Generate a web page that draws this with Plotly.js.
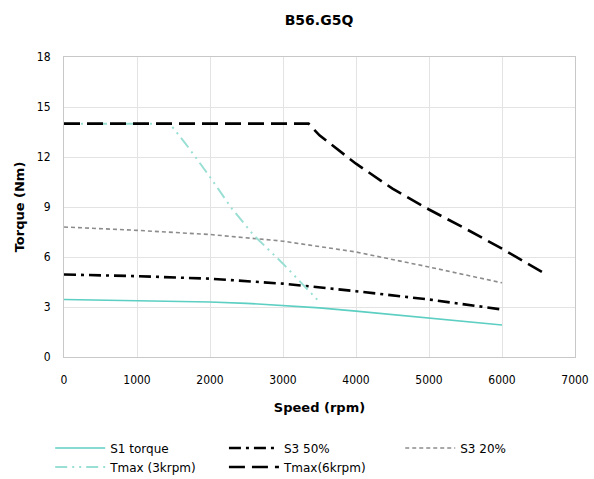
<!DOCTYPE html>
<html>
<head>
<meta charset="utf-8">
<script src="https://cdn.plot.ly/plotly-3.0.1.min.js"></script>
<style>
  html, body { margin: 0; padding: 0; background: #fff; }
  #chart { width: 594px; height: 479px; }
</style>
</head>
<body>
<div id="chart"></div>
<script>
// Torque/speed curves for motor B56.G5Q
const s1Speed = [0, 1000, 2000, 2500, 3000, 3500, 4000, 5000, 6000];
const s1Torque = [3.45, 3.38, 3.3, 3.22, 3.1, 2.95, 2.75, 2.35, 1.92];

const s3_50Speed = [0, 1000, 2000, 3000, 4000, 5000, 6000];
const s3_50Torque = [4.95, 4.85, 4.7, 4.4, 3.95, 3.45, 2.85];

const s3_20Speed = [0, 1000, 2000, 3000, 4000, 5000, 6000];
const s3_20Torque = [7.8, 7.6, 7.35, 6.95, 6.3, 5.4, 4.45];

const tmax3Speed = [0, 1450, 1700, 2000, 2300, 2600, 3000, 3500];
const tmax3Torque = [14, 14, 12.6, 10.8, 8.9, 7.3, 5.6, 3.3];

const tmax6Speed = [0, 3350, 3500, 4000, 4500, 5000, 5500, 6000, 6550];
const tmax6Torque = [14, 14, 13.3, 11.6, 10.1, 8.85, 7.7, 6.5, 5.1];

const xTicks = [0, 1000, 2000, 3000, 4000, 5000, 6000, 7000];
const yTicks = [0, 3, 6, 9, 12, 15, 18];

const traces = [
  { name: 'S1 torque', x: s1Speed, y: s1Torque, mode: 'lines', legend: 'legend',
    line: { color: '#5ccfc2', width: 1.6 } },
  { name: 'S3 50%', x: s3_50Speed, y: s3_50Torque, mode: 'lines', legend: 'legend2',
    line: { color: '#000000', width: 2.6, dash: '12px,5px,3px,5px' } },
  { name: 'S3 20%', x: s3_20Speed, y: s3_20Torque, mode: 'lines', legend: 'legend3',
    line: { color: '#8c8c8c', width: 1.6, dash: '4px,3px' } },
  { name: 'Tmax (3krpm)', x: tmax3Speed, y: tmax3Torque, mode: 'lines', legend: 'legend',
    line: { color: '#9adfd4', width: 2, dash: '12px,5px,2px,5px,2px,5px' } },
  { name: 'Tmax(6krpm)', x: tmax6Speed, y: tmax6Torque, mode: 'lines', legend: 'legend2',
    line: { color: '#000000', width: 2.6, dash: '16px,7px' } }
];

const baseFont = 'DejaVu Sans, Verdana, sans-serif';
const tickFont = { family: 'DejaVu Sans Condensed, DejaVu Sans, sans-serif', size: 12, color: '#000' };
const legendFont = { family: baseFont, size: 12, color: '#000' };

function legendAt(x) {
  return {
    orientation: 'v', x: x, xanchor: 'left', y: -0.255, yanchor: 'top',
    itemwidth: 50, tracegroupgap: 0, traceorder: 'normal',
    font: legendFont, bgcolor: 'rgba(0,0,0,0)'
  };
}

const layout = {
  width: 594, height: 479,
  margin: { l: 64, r: 19, t: 57, b: 122, autoexpand: false },
  paper_bgcolor: '#fff', plot_bgcolor: '#fff',
  font: { family: baseFont, size: 12, color: '#000' },
  title: { text: '<b>B56.G5Q</b>', x: 0.537, xanchor: 'center', y: 0.958, yanchor: 'middle',
           font: { family: baseFont, size: 14, color: '#000' } },
  xaxis: {
    range: [0, 7000], tickvals: xTicks, ticktext: xTicks.map(String),
    showgrid: true, gridcolor: '#e3e3e3', gridwidth: 1,
    showline: true, linecolor: '#c8c8c8', linewidth: 1, mirror: true,
    zeroline: false, ticks: '', ticklabelstandoff: 12,
    tickfont: tickFont,
    title: { text: '<b>Speed (rpm)</b>', standoff: 16, font: { family: baseFont, size: 13 } }
  },
  yaxis: {
    range: [0, 18], tickvals: yTicks, ticktext: yTicks.map(String),
    showgrid: true, gridcolor: '#e3e3e3', gridwidth: 1,
    showline: true, linecolor: '#c8c8c8', linewidth: 1, mirror: true,
    zeroline: false, ticks: '', ticklabelstandoff: 10,
    tickfont: tickFont,
    title: { text: '<b>Torque (Nm)</b>', standoff: 9, font: { family: baseFont, size: 13 } }
  },
  showlegend: true,
  legend: legendAt(-0.027),
  legend2: legendAt(0.313),
  legend3: legendAt(0.658)
};

Plotly.newPlot('chart', traces, layout, { displayModeBar: false, staticPlot: true });
</script>
</body>
</html>
